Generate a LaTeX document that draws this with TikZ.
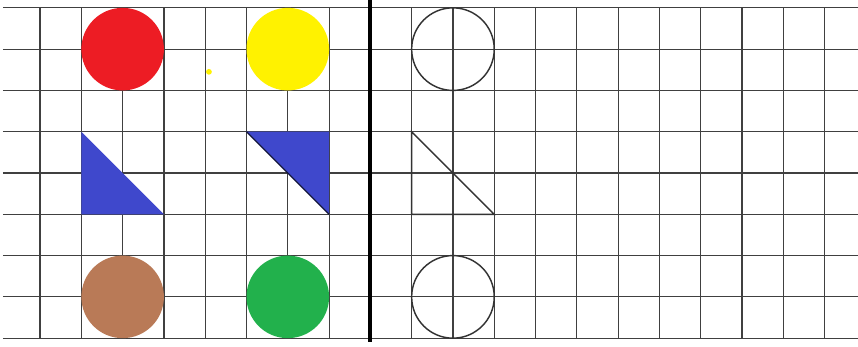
\documentclass[tikz,border=0pt]{standalone}
\usepackage{xcolor}
\definecolor{paintred}{HTML}{ED1C24}
\definecolor{paintyellow}{HTML}{FFF200}
\definecolor{paintblue}{HTML}{3F48CC}
\definecolor{paintbrown}{HTML}{B97A57}
\definecolor{paintgreen}{HTML}{22B14C}
\begin{document}
\begin{tikzpicture}[
  gridline/.style={black!75, line width=0.8pt},
  disc/.style={circle, minimum size=2cm, inner sep=0pt},
  outline/.style={draw=black!80, line width=1pt},
]
\useasboundingbox (-0.97,0.19) rectangle (19.81,-8.21);
\fill[white] (-0.97,0.19) rectangle (19.81,-8.21);
% squared paper
\foreach \r in {0,...,8}
  \draw[gridline] (-0.9,-\r) -- (19.81,-\r);
\foreach \c in {0,...,19}
  \draw[gridline] (\c,0) -- (\c,-8);
% dividing line
\draw[black, line width=2.6pt] (8,0.19) -- (8,-8.1);
% coloured models
\node[disc, fill=paintred] (red) at (2,-1) {};
\node[disc, fill=paintyellow] (yellow) at (6,-1) {};
\fill[paintyellow] (4.09,-1.55) circle (0.07);
\fill[paintblue] (1,-3) -- (1,-5) -- (3,-5) -- cycle;
\fill[paintblue] (5,-3) -- (7,-3) -- (7,-5) -- cycle;
\draw[black!70!paintblue, line width=0.9pt] (5,-3) -- (7,-5);
\node[disc, fill=paintbrown] (brown) at (2,-7) {};
\node[disc, fill=paintgreen] (green) at (6,-7) {};
% outlines to colour
\node[disc, outline] (topring) at (10,-1) {};
\draw[outline] (9,-3) -- (9,-5) -- (11,-5) -- cycle;
\node[disc, outline] (bottomring) at (10,-7) {};
\end{tikzpicture}
\end{document}
